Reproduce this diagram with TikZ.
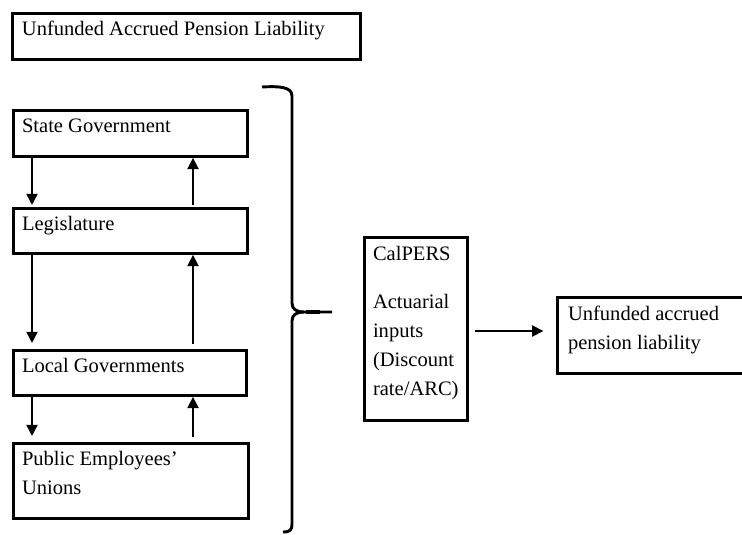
\documentclass[tikz,border=0pt]{standalone}
\usepackage{fontspec}
\setmainfont{Liberation Serif}
\usetikzlibrary{arrows.meta,positioning}

\begin{document}
\begin{tikzpicture}[x=0.75pt,y=-0.75pt,
  box/.style={draw,line width=2.9pt,outer sep=0pt,inner sep=0pt,anchor=north west},
  txt/.style={inner sep=0pt,outer sep=0pt,anchor=north west,align=left,
    font=\fontsize{15.4pt}{21.75pt}\selectfont},
  arr/.style={line width=2.1pt,-{Triangle[length=8.5pt,width=8pt]}}]

\useasboundingbox (0,0) rectangle (742,535);
\clip (0,0) rectangle (742,535);

% the boxes
\node[box,minimum width=261pt,minimum height=34.5pt] (title) at (12.5,13.5) {};
\node[box,minimum width=175.5pt,minimum height=34.5pt] (state) at (13.5,110.5) {};
\node[box,minimum width=175.5pt,minimum height=33.75pt] (leg) at (13.5,208.5) {};
\node[box,minimum width=174.75pt,minimum height=33.75pt] (local) at (13.5,350.5) {};
\node[box,minimum width=176.25pt,minimum height=56.25pt] (unions) at (13.5,443.5) {};
\node[box,minimum width=77.25pt,minimum height=137.25pt] (calpers) at (364.5,237.5) {};
\node[box,minimum width=160pt,minimum height=57pt] (result) at (557.5,297.5) {};

% labels
\node[txt,below right=5.6pt and 7.1pt of title.north west] (titletxt) {Unfunded Accrued Pension Liability};
\node[txt,below right=6.4pt and 6.4pt of state.north west] (statetxt) {State Government};
\node[txt,below right=5.6pt and 6.4pt of leg.north west] (legtxt) {Legislature};
\node[txt,below right=5.6pt and 6.4pt of local.north west] (localtxt) {Local Governments};
\node[txt,below right=5.6pt and 6.4pt of unions.north west] (unionstxt) {Public Employees'\\Unions};
\node[txt,below right=6.4pt and 6.4pt of calpers.north west] (calperstxt) {CalPERS};
\node[txt,below right=25.5pt and 0pt of calperstxt.south west] (actuarialtxt) {Actuarial\\inputs\\(Discount\\rate/ARC)};
\node[txt,below right=6.4pt and 7.9pt of result.north west] (resulttxt) {Unfunded accrued\\pension liability};

% the arrows
\coordinate (dn) at (32,0);
\coordinate (up) at (193,0);
\coordinate (mid) at (0,331);
\draw[arr,shorten >=2.5pt] (state.south -| dn) -- (leg.north -| dn);
\draw[arr,shorten <=2.5pt,shorten >=0.9pt] (leg.north -| up) -- (state.south -| up);
\draw[arr,shorten >=5.5pt] (leg.south -| dn) -- (local.north -| dn);
\draw[arr,shorten <=5pt,shorten >=0.9pt] (local.north -| up) -- (leg.south -| up);
\draw[arr,shorten >=5.5pt] (local.south -| dn) -- (unions.north -| dn);
\draw[arr,shorten <=5pt,shorten >=0.9pt] (unions.north -| up) -- (local.south -| up);
\draw[arr,shorten <=5.6pt,shorten >=10.5pt] (calpers.east |- mid) -- (result.west |- mid);

% the brace
\draw[line width=2.2pt] (262,87) .. controls (280,86) and (292,87) .. (292,96)
  -- (292,303) .. controls (292,309) and (296,312) .. (304,312) -- (332,312);
\draw[line width=2.2pt] (304,312) .. controls (296,312) and (292,315) .. (292,321)
  -- (292,524) .. controls (292,530) and (290,532) .. (283,532);
\draw[line width=3.4pt] (306,312) -- (320,312);

\end{tikzpicture}
\end{document}
